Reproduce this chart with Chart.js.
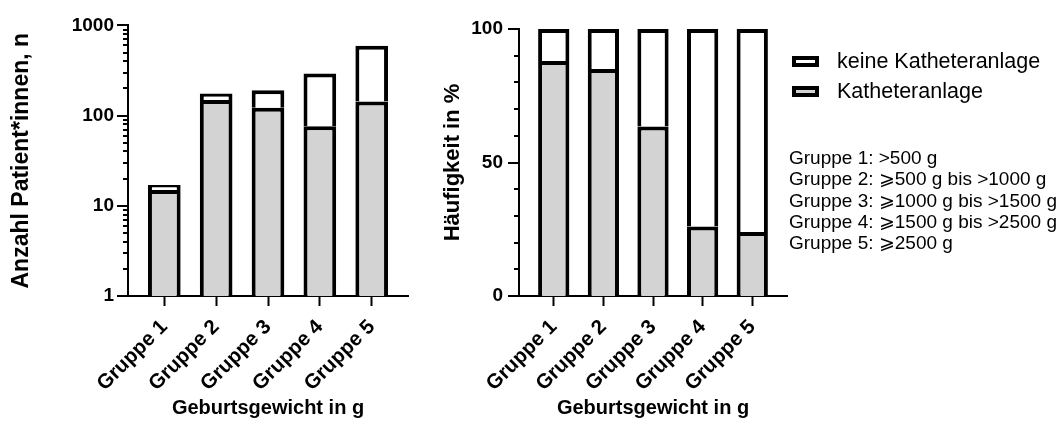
<!DOCTYPE html>
<html>
<head>
<meta charset="utf-8">
<script src="https://cdn.jsdelivr.net/npm/chart.js@4/dist/chart.umd.min.js"></script>
<style>
    body { margin: 0; background: #fff; width: 1064px; height: 425px; position: relative; overflow: hidden;
           font-family: 'Liberation Sans', Arial, sans-serif; color: #000; }
    #chartAnzahl { position: absolute; left: 0; top: 0; }
    #chartProzent { position: absolute; left: 430px; top: 0; }
    #legende { position: absolute; left: 792px; top: 46px; font-size: 21.5px; }
    .eintrag { display: flex; align-items: center; height: 30px; white-space: nowrap; }
    .kasten { width: 27px; height: 11px; border: 4px solid #000; box-sizing: border-box; margin-right: 18px; }
    #gruppenText { position: absolute; left: 789px; top: 147px; font-size: 19px; line-height: 21.3px; white-space: nowrap; }
</style>
</head>
<body>
<canvas id="chartAnzahl" width="430" height="425"></canvas>
<canvas id="chartProzent" width="370" height="425"></canvas>
<div id="legende"></div>
<div id="gruppenText"></div>

<script>
// ================= DATEN =================
const gruppen = ['Gruppe 1', 'Gruppe 2', 'Gruppe 3', 'Gruppe 4', 'Gruppe 5'];
const anzahlKatheter = [15, 149, 122, 76, 143];
const anzahlKeinKatheter = [2, 27, 69, 216, 452];
const prozentKatheter = [88, 85, 63.5, 26, 24];
const prozentKeinKatheter = [12, 15, 36.5, 74, 76];
const logTicks = [1, 10, 100, 1000];
const prozentTicks = [0, 50, 100];
const gruppenBeschreibung = [
    'Gruppe 1: >500 g',
    'Gruppe 2: \u2A7E500 g bis >1000 g',
    'Gruppe 3: \u2A7E1000 g bis >1500 g',
    'Gruppe 4: \u2A7E1500 g bis >2500 g',
    'Gruppe 5: \u2A7E2500 g'
];

const grau = '#d3d3d3';
const schrift = "'Liberation Sans', Arial, sans-serif";

// kurze / lange Striche an der y-Achse
const yTicksPlugin = {
    id: 'yTicks',
    afterDraw(chart, args, opts) {
        const s = chart.scales.y;
        const ctx = chart.ctx;
        ctx.save();
        ctx.strokeStyle = '#000';
        ctx.lineWidth = 2;
        s.ticks.forEach(t => {
            const y = Math.round(s.getPixelForValue(t.value));
            const len = opts.labels.some(l => Math.abs(l - t.value) < 1e-6) ? 11 : 5;
            ctx.beginPath();
            ctx.moveTo(s.right - len, y);
            ctx.lineTo(s.right, y);
            ctx.stroke();
        });
        ctx.restore();
    }
};

const punkte = werte => werte.map((v, i) => ({ x: i + 1, y: v }));

function datensaetze(katheter, keinKatheter) {
    return [{
        label: 'Katheteranlage',
        data: punkte(katheter),
        backgroundColor: grau,
        borderColor: '#000',
        borderWidth: 4,
        borderSkipped: 'start',
        barPercentage: 0.63,
        categoryPercentage: 1
    }, {
        label: 'keine Katheteranlage',
        data: punkte(keinKatheter),
        backgroundColor: '#fff',
        borderColor: '#000',
        borderWidth: 4,
        borderSkipped: 'start',
        barPercentage: 0.63,
        categoryPercentage: 1
    }];
}

function optionen(yAchse, yBreite, padRechts, padOben, labels) {
    return {
        responsive: false,
        animation: false,
        layout: { padding: { left: 0, right: padRechts, top: padOben, bottom: 0 } },
        plugins: {
            legend: { display: false },
            tooltip: { enabled: false },
            yTicks: { labels: labels }
        },
        scales: {
            x: {
                type: 'linear',
                stacked: true,
                offset: false,
                min: 0.3,
                max: 5.7,
                afterBuildTicks: s => { s.ticks = gruppen.map((g, i) => ({ value: i + 1 })); },
                afterFit: s => { s.height = 129; },
                ticks: {
                    autoSkip: false,
                    minRotation: 45,
                    maxRotation: 45,
                    padding: 9,
                    color: '#000',
                    font: { family: schrift, size: 20.5, weight: 'bold' },
                    callback: v => gruppen[Math.round(v) - 1]
                },
                grid: { display: true, offset: false, drawOnChartArea: false, drawTicks: true, tickLength: 10, tickWidth: 2, tickColor: '#000' },
                border: { display: true, color: '#000', width: 2 },
                title: {
                    display: true,
                    text: 'Geburtsgewicht in g',
                    color: '#000',
                    font: { family: schrift, size: 20, weight: 'bold' },
                    padding: { top: 4, bottom: 5 }
                }
            },
            y: Object.assign({
                stacked: true,
                afterFit: s => { s.width = yBreite; },
                grid: { display: false, drawTicks: false },
                border: { display: true, color: '#000', width: 2 }
            }, yAchse)
        }
    };
}

// ================= ANZAHL (log) =================
new Chart(document.getElementById('chartAnzahl'), {
    type: 'bar',
    data: { datasets: datensaetze(anzahlKatheter, anzahlKeinKatheter) },
    options: optionen({
        type: 'logarithmic',
        min: logTicks[0],
        max: logTicks[logTicks.length - 1],
        afterBuildTicks: s => {
            const t = [];
            logTicks.forEach((d, i) => {
                if (i < logTicks.length - 1) {
                    for (let k = 1; k < 10; k++) t.push({ value: d * k });
                } else {
                    t.push({ value: d });
                }
            });
            s.ticks = t;
        },
        ticks: {
            autoSkip: false,
            padding: 14,
            color: '#000',
            font: { family: schrift, size: 19, weight: 'bold' },
            callback: v => logTicks.some(l => Math.abs(l - v) < 1e-6) ? String(v) : ''
        },
        title: {
            display: true,
            text: 'Anzahl Patient*innen, n',
            color: '#000',
            font: { family: schrift, size: 23, weight: 'bold' },
            padding: { top: 8, bottom: 0 }
        }
    }, 128, 22, 20, logTicks),
    plugins: [yTicksPlugin]
});

// ================= HÄUFIGKEIT (%) =================
new Chart(document.getElementById('chartProzent'), {
    type: 'bar',
    data: { datasets: datensaetze(prozentKatheter, prozentKeinKatheter) },
    options: optionen({
        type: 'linear',
        min: prozentTicks[0],
        max: prozentTicks[prozentTicks.length - 1],
        ticks: {
            autoSkip: false,
            stepSize: 10,
            padding: 16,
            color: '#000',
            font: { family: schrift, size: 19, weight: 'bold' },
            callback: v => prozentTicks.includes(v) ? String(v) : ''
        },
        title: {
            display: true,
            text: 'Häufigkeit in %',
            color: '#000',
            font: { family: schrift, size: 22, weight: 'bold' },
            padding: { top: 10, bottom: 0 }
        }
    }, 89, 13, 29, prozentTicks),
    plugins: [yTicksPlugin]
});

// ================= LEGENDE =================
const legende = document.getElementById('legende');
[['keine Katheteranlage', '#fff'], ['Katheteranlage', grau]].forEach(([text, farbe]) => {
    const e = document.createElement('div');
    e.className = 'eintrag';
    const k = document.createElement('div');
    k.className = 'kasten';
    k.style.background = farbe;
    e.appendChild(k);
    e.appendChild(document.createTextNode(text));
    legende.appendChild(e);
});

document.getElementById('gruppenText').innerHTML = gruppenBeschreibung.map(t => '<div>' + t.replace('>', '&gt;').replace('>', '&gt;') + '</div>').join('');
</script>
</body>
</html>
